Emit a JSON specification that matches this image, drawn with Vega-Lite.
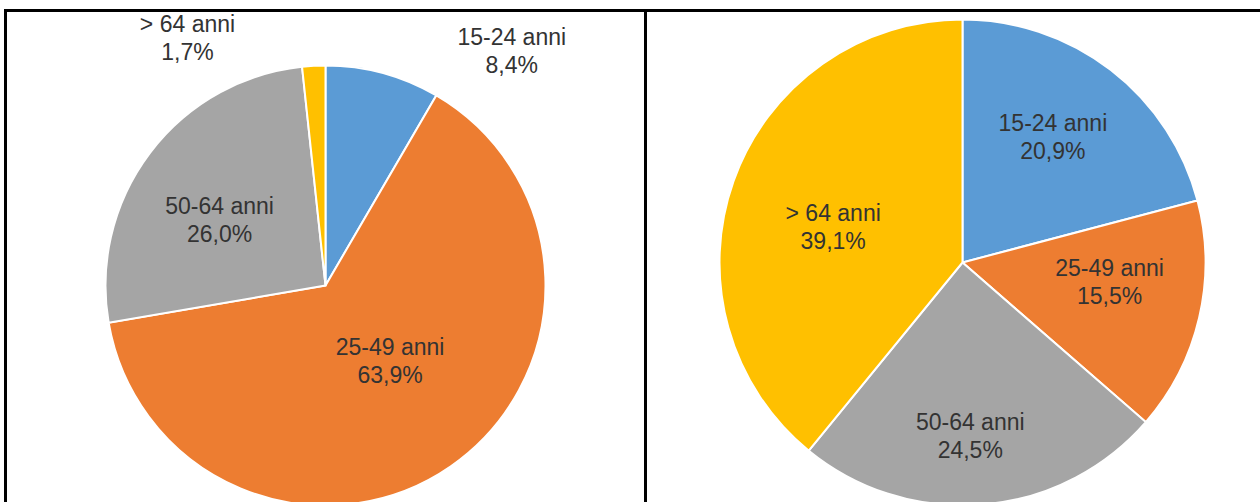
{
  "$schema": "https://vega.github.io/schema/vega-lite/v6.json",
  "padding": {"left": 3.5, "top": 8.5, "right": 0, "bottom": 0},
  "spacing": 0,
  "bounds": "flush",
  "background": "white",
  "config": {"view": {"stroke": "black", "strokeWidth": 3}},
  "data": {"values": [
    {"panel": "A", "group": "15-24 anni", "value": 8.4, "label": "15-24 anni\n8,4%"},
    {"panel": "A", "group": "25-49 anni", "value": 63.9, "label": "25-49 anni\n63,9%"},
    {"panel": "A", "group": "50-64 anni", "value": 26.0, "label": "50-64 anni\n26,0%"},
    {"panel": "A", "group": "> 64 anni", "value": 1.7, "label": "> 64 anni\n1,7%"},
    {"panel": "B", "group": "15-24 anni", "value": 20.9, "label": "15-24 anni\n20,9%"},
    {"panel": "B", "group": "25-49 anni", "value": 15.5, "label": "25-49 anni\n15,5%"},
    {"panel": "B", "group": "50-64 anni", "value": 24.5, "label": "50-64 anni\n24,5%"},
    {"panel": "B", "group": "> 64 anni", "value": 39.1, "label": "> 64 anni\n39,1%"}
  ]},
  "hconcat": [
    {
      "width": 640,
      "height": 550,
      "view": {"stroke": "black", "strokeWidth": 3},
      "transform": [{"filter": "datum.panel === 'A'"}],
      "encoding": {
        "theta": {"field": "value", "type": "quantitative", "stack": true},
        "color": {"field": "group", "type": "nominal", "legend": null,
          "scale": {"domain": ["15-24 anni", "25-49 anni", "50-64 anni", "> 64 anni"], "range": ["#5B9BD5", "#ED7D31", "#A5A5A5", "#FFC000"]}},
        "order": {"field": "group", "sort": "ascending"}
      },
      "layer": [
        {"mark": {"type": "arc", "outerRadius": 220, "stroke": "white", "strokeWidth": 2}},
        {"mark": {"type": "text", "radius": 300, "dx": 108, "dy": 42, "fontSize": 23, "lineHeight": 28, "font": "Liberation Sans", "lineBreak": "\n", "align": "center", "baseline": "middle"},
          "encoding": {"color": {"value": "#333333"}, "text": {"condition": {"test": "datum.group === '15-24 anni'", "field": "label"}, "value": ""}}},
        {"mark": {"type": "text", "radius": 101, "dx": 7, "dy": -20, "fontSize": 23, "lineHeight": 28, "font": "Liberation Sans", "lineBreak": "\n", "align": "center", "baseline": "middle"},
          "encoding": {"color": {"value": "#333333"}, "text": {"condition": {"test": "datum.group === '25-49 anni'", "field": "label"}, "value": ""}}},
        {"mark": {"type": "text", "radius": 124, "dx": -7, "dy": -4, "fontSize": 23, "lineHeight": 28, "font": "Liberation Sans", "lineBreak": "\n", "align": "center", "baseline": "middle"},
          "encoding": {"color": {"value": "#333333"}, "text": {"condition": {"test": "datum.group === '50-64 anni'", "field": "label"}, "value": ""}}},
        {"mark": {"type": "text", "radius": 150, "dx": -130, "dy": -111, "fontSize": 23, "lineHeight": 28, "font": "Liberation Sans", "lineBreak": "\n", "align": "center", "baseline": "middle"},
          "encoding": {"color": {"value": "#333333"}, "text": {"condition": {"test": "datum.group === '> 64 anni'", "field": "label"}, "value": ""}}}
      ]
    },
    {
      "width": 634,
      "height": 504,
      "view": {"stroke": "black", "strokeWidth": 3},
      "transform": [{"filter": "datum.panel === 'B'"}],
      "encoding": {
        "theta": {"field": "value", "type": "quantitative", "stack": true},
        "color": {"field": "group", "type": "nominal", "legend": null,
          "scale": {"domain": ["15-24 anni", "25-49 anni", "50-64 anni", "> 64 anni"], "range": ["#5B9BD5", "#ED7D31", "#A5A5A5", "#FFC000"]}},
        "order": {"field": "group", "sort": "ascending"}
      },
      "layer": [
        {"mark": {"type": "arc", "outerRadius": 243, "stroke": "white", "strokeWidth": 2}},
        {"mark": {"type": "text", "radius": 153, "dx": -3, "dy": -17, "fontSize": 23, "lineHeight": 28, "font": "Liberation Sans", "lineBreak": "\n", "align": "center", "baseline": "middle"},
          "encoding": {"color": {"value": "#333333"}, "text": {"condition": {"test": "datum.group === '15-24 anni'", "field": "label"}, "value": ""}}},
        {"mark": {"type": "text", "radius": 148, "dx": 3, "dy": -27, "fontSize": 23, "lineHeight": 28, "font": "Liberation Sans", "lineBreak": "\n", "align": "center", "baseline": "middle"},
          "encoding": {"color": {"value": "#333333"}, "text": {"condition": {"test": "datum.group === '25-49 anni'", "field": "label"}, "value": ""}}},
        {"mark": {"type": "text", "radius": 174, "dx": -7, "dy": -13, "fontSize": 23, "lineHeight": 28, "font": "Liberation Sans", "lineBreak": "\n", "align": "center", "baseline": "middle"},
          "encoding": {"color": {"value": "#333333"}, "text": {"condition": {"test": "datum.group === '50-64 anni'", "field": "label"}, "value": ""}}},
        {"mark": {"type": "text", "radius": 132, "dx": -5, "dy": -4, "fontSize": 23, "lineHeight": 28, "font": "Liberation Sans", "lineBreak": "\n", "align": "center", "baseline": "middle"},
          "encoding": {"color": {"value": "#333333"}, "text": {"condition": {"test": "datum.group === '> 64 anni'", "field": "label"}, "value": ""}}}
      ]
    }
  ]
}
